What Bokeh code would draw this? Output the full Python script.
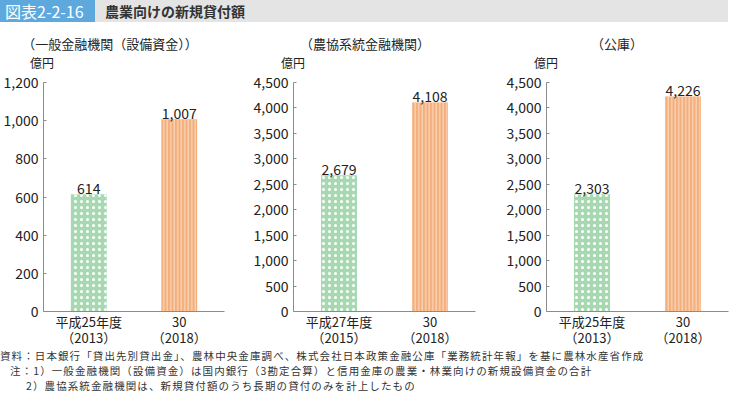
from bokeh.plotting import figure
from bokeh.models import (ColumnDataSource, FactorRange, Range1d, FixedTicker,
                          NumeralTickFormatter, Div, CategoricalAxis,
                          CustomJSTickFormatter)
from bokeh.layouts import column, row
from bokeh.core.properties import value
from bokeh.embed import file_html
from bokeh.resources import INLINE

FONT = "Noto Sans CJK JP"

# ---------------- data ----------------
header_label = "図表2-2-16"
header_title = "農業向けの新規貸付額"
panel_titles = ["（一般金融機関（設備資金））", "（農協系統金融機関）", "（公庫）"]
unit_label = "億円"
categories_1 = ["平成25年度", "30"]
categories_2 = ["平成27年度", "30"]
categories_3 = ["平成25年度", "30"]
years_1 = ["（2013）", "（2018）"]
years_2 = ["（2015）", "（2018）"]
years_3 = ["（2013）", "（2018）"]
values_1 = [614, 1007]
values_2 = [2679, 4108]
values_3 = [2303, 4226]
y_max = [1200, 4500, 4500]
y_step = [200, 500, 500]
notes = [
    "資料：日本銀行「貸出先別貸出金」、農林中央金庫調べ、株式会社日本政策金融公庫「業務統計年報」を基に農林水産省作成",
    "注：1）一般金融機関（設備資金）は国内銀行（3勘定合算）と信用金庫の農業・林業向けの新規設備資金の合計",
    "2）農協系統金融機関は、新規貸付額のうち長期の貸付のみを計上したもの",
]

# ---------------- styles ----------------
GREEN = "#A8D8B2"
ORANGE = "#F2AE7C"
ORANGE_STRIPE = "#FBD5B5"
AXIS = "#8C8C8C"
TXT = "#222222"
FRAME_W = 182
FRAME_H = 230
BT = 10
BB = 37
TOTAL_W = 730


def style_cat_axis(ax, standoff):
    ax.major_tick_line_color = None
    ax.minor_tick_line_color = None
    ax.major_tick_in = 0
    ax.major_tick_out = 0
    ax.major_label_standoff = standoff
    ax.major_label_text_font = FONT
    ax.major_label_text_font_size = "13px"
    ax.major_label_text_color = TXT


def make_panel(cats, years, vals, ymax, step, bl, br):
    p = figure(x_range=FactorRange(*cats, range_padding=0),
               y_range=Range1d(0, ymax),
               width=bl + FRAME_W + br, height=BT + FRAME_H + BB,
               min_border_left=bl, min_border_right=br,
               min_border_top=BT, min_border_bottom=BB,
               output_backend="svg", toolbar_location=None)
    p.outline_line_color = None
    p.grid.visible = False

    src = ColumnDataSource(dict(
        x=cats, top=vals,
        label=[f"{v:,}" for v in vals],
        fill=[GREEN, ORANGE],
        hatch=["dot", "vertical_line"],
        hcol=["white", ORANGE_STRIPE],
        hscale=[6.0, 3.5],
        hweight=[0.9, 1.3],
    ))
    p.vbar(x="x", top="top", width=0.396, source=src, fill_color="fill",
           line_color=None, hatch_pattern="hatch", hatch_color="hcol",
           hatch_scale="hscale", hatch_weight="hweight")
    p.text(x="x", y="top", text="label", source=src, text_align="center",
           text_baseline="alphabetic", y_offset=-6, text_font=value(FONT),
           text_font_size="14px", text_color=TXT)

    # y axis
    p.yaxis.ticker = FixedTicker(ticks=list(range(0, ymax + 1, step)))
    p.yaxis.formatter = NumeralTickFormatter(format="0,0")
    p.yaxis.axis_line_color = AXIS
    p.yaxis.major_tick_line_color = AXIS
    p.yaxis.minor_tick_line_color = None
    p.yaxis.major_label_text_font = FONT
    p.yaxis.major_label_text_color = TXT
    p.yaxis.major_tick_in = 3
    p.yaxis.major_tick_out = 0
    p.yaxis.major_label_standoff = 5
    p.yaxis.major_label_text_font_size = "14px"

    # x axis: first line (category) and second line (year) as a second axis
    p.xaxis.axis_line_color = AXIS
    style_cat_axis(p.xaxis[0], 0)
    year_axis = CategoricalAxis(
        axis_line_color=None,
        formatter=CustomJSTickFormatter(args=dict(cats=list(cats), years=list(years)),
                                        code="return years[cats.indexOf(tick)];"))
    style_cat_axis(year_axis, -6)
    p.add_layout(year_axis, "below")
    return p


p1 = make_panel(categories_1, years_1, values_1, y_max[0], y_step[0], 42, 24)
p2 = make_panel(categories_2, years_2, values_2, y_max[1], y_step[1], 45, 26)
p3 = make_panel(categories_3, years_3, values_3, y_max[2], y_step[2], 45, 2)

# ---------------- header ----------------
header_html = (
    f'<div style="position:relative;width:728px;height:22px;background:#E4E4E4;'
    f'font-family:\'{FONT}\';">'
    f'<div style="position:absolute;left:0;top:0;width:95px;height:22px;background:#5DA9DD;"></div>'
    f'<div style="position:absolute;left:5px;top:1px;height:21px;line-height:21px;'
    f'color:#fff;font-size:16px;white-space:nowrap;">{header_label}</div>'
    f'<div style="position:absolute;left:105px;top:1px;height:21px;line-height:21px;'
    f'font-size:14px;font-weight:bold;color:#333;white-space:nowrap;">{header_title}</div></div>'
)
header = Div(text=header_html, width=TOTAL_W, height=22, margin=0)

# ---------------- panel titles and unit labels ----------------
title_cx = [110, 365, 617]       # centre x of each panel title
unit_cx = [42, 293, 546]         # centre x of each unit label (on the y axis)
spans = []
for cx, t in zip(title_cx, panel_titles):
    spans.append(
        f'<div style="position:absolute;left:{cx}px;top:13px;transform:translateX(-50%);'
        f'font-size:13px;line-height:18px;white-space:nowrap;color:{TXT};">{t}</div>')
for cx in unit_cx:
    spans.append(
        f'<div style="position:absolute;left:{cx}px;top:32px;transform:translateX(-50%);'
        f'font-size:12px;line-height:17px;white-space:nowrap;color:{TXT};">{unit_label}</div>')
titles_html = (f'<div style="position:relative;width:{TOTAL_W}px;height:50px;'
               f'font-family:\'{FONT}\';">' + "".join(spans) + '</div>')
titles = Div(text=titles_html, width=TOTAL_W, height=50, margin=0)

# ---------------- footer ----------------
pads = [0, 10, 26]
footer_html = (f'<div style="font-family:\'{FONT}\';font-size:10.5px;letter-spacing:1.1px;'
               f'color:#333;">' + "".join(
                   f'<div style="padding-left:{pad}px;white-space:nowrap;height:14.8px;'
                   f'line-height:14.8px;">{line}</div>'
                   for pad, line in zip(pads, notes)) + '</div>')
footer = Div(text=footer_html, width=TOTAL_W, height=45, margin=0)

layout = column(header, titles, row(p1, p2, p3), footer)

open("out.html", "w").write(file_html(layout, INLINE))
